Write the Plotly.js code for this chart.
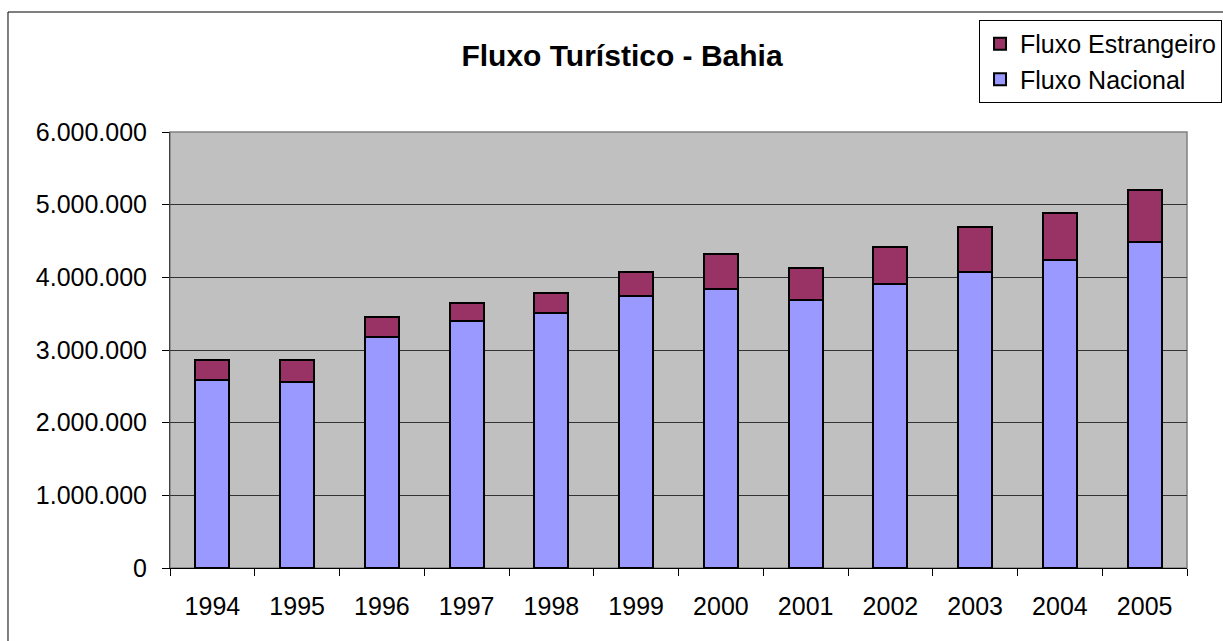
<!DOCTYPE html>
<html>
<head>
<meta charset="utf-8">
<script src="https://cdn.plot.ly/plotly-3.0.1.min.js"></script>
<style>html,body{margin:0;padding:0;background:#fff;}#chart{width:1223px;height:641px;}</style>
</head>
<body>
<div id="chart"></div>
<script>
const years = ['1994','1995','1996','1997','1998','1999','2000','2001','2002','2003','2004','2005'];
const fluxoNacional = [2583000, 2565000, 3184000, 3399000, 3514000, 3743000, 3845000, 3693000, 3908000, 4069000, 4234000, 4486000];
const fluxoEstrangeiro = [285000, 297000, 275000, 248000, 276000, 330000, 481000, 441000, 509000, 629000, 656000, 711000];
const yTicks = [0, 1000000, 2000000, 3000000, 4000000, 5000000, 6000000];

const FONT = 'Liberation Sans, Arial, sans-serif';

const traces = [
  {type:'bar', name:'Fluxo Nacional', x:years, y:fluxoNacional, legendgroup:'n', legendrank:2,
   marker:{color:'#9999FF', line:{color:'#000', width:2}}, hoverinfo:'x+y'},
  {type:'bar', name:'Fluxo Estrangeiro', x:years, y:fluxoEstrangeiro, legendgroup:'e', legendrank:1,
   marker:{color:'#993366', line:{color:'#000', width:2}}, hoverinfo:'x+y'}
];

const layout = {
  width:1223, height:641,
  margin:{l:170, r:36, t:132, b:73, pad:0, autoexpand:false},
  paper_bgcolor:'#ffffff', plot_bgcolor:'#C0C0C0',
  barmode:'stack', bargap:0.6,
  separators:',.',
  font:{family:FONT, size:22, color:'#000'},
  title:{text:'<b>Fluxo Turístico - Bahia</b>', font:{family:FONT, size:30, color:'#000'},
         x:0.5086, xref:'container', xanchor:'center', y:0.914, yref:'container', yanchor:'middle'},
  xaxis:{type:'category', tickson:'boundaries', ticks:'outside', ticklen:7, tickcolor:'#000',
         tickfont:{family:FONT, size:25, color:'#000'}, showline:true, linecolor:'#000', linewidth:1,
         showgrid:false, ticklabelstandoff:16},
  yaxis:{range:[0,6000000], tickvals:yTicks, tickformat:',d', ticks:'outside', ticklen:7, tickcolor:'#000',
         tickfont:{family:FONT, size:25, color:'#000'}, showline:true, linecolor:'#404040', linewidth:1,
         showgrid:true, gridcolor:'#333', gridwidth:1, zeroline:false, ticklabelstandoff:10},
  legend:{x:0.7955, y:1.2569, xanchor:'left', yanchor:'top', bgcolor:'#fff', bordercolor:'#000', borderwidth:1,
          font:{family:FONT, size:25, color:'#000'}, traceorder:'grouped', tracegroupgap:0,
          itemwidth:30},
  shapes:[
    {type:'rect', xref:'paper', yref:'paper', x0:0, x1:1, y0:0, y1:1, line:{color:'#808080', width:1.5}, fillcolor:'rgba(0,0,0,0)', layer:'below'},
    {type:'rect', xref:'paper', yref:'paper', x0:-0.1593, x1:1.2, y0:-0.3, y1:1.2752, line:{color:'#000', width:1}, fillcolor:'rgba(0,0,0,0)'}
  ],
  showlegend:true
};

Plotly.newPlot('chart', traces, layout, {displayModeBar:false, staticPlot:true});
</script>
</body>
</html>
